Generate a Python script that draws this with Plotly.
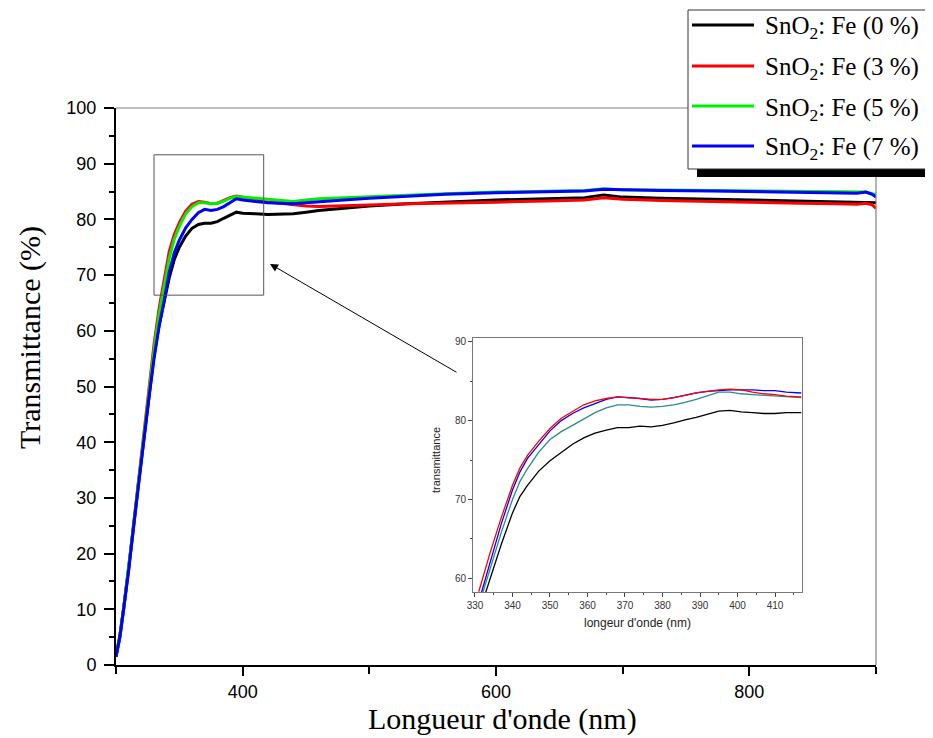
import plotly.graph_objects as go

# ---------------- data ----------------
wl = [300, 303, 306, 310, 314, 318, 322, 326, 330, 334, 338, 342, 346, 350, 355, 360,
      365, 370, 375, 380, 385, 390, 395, 400, 405, 410, 420, 430, 440, 450, 460, 480,
      500, 530, 560, 600, 640, 670, 685, 700, 730, 770, 800, 840, 870, 885, 892, 897, 900]

t_fe0 = [1.5, 5.0, 10.0, 17.0, 25.0, 33.0, 40.5, 48.5, 55.5, 61.0, 65.5, 69.5, 72.8, 75.0, 77.0, 78.4,
         79.1, 79.3, 79.3, 79.6, 80.2, 80.7, 81.3, 81.1, 81.0, 81.0, 80.9, 80.9, 81.0, 81.3, 81.6, 82.0,
         82.4, 82.8, 83.1, 83.5, 83.7, 83.9, 84.4, 84.0, 83.8, 83.6, 83.5, 83.3, 83.2, 83.1, 83.1, 83.0, 83.0]
t_fe3 = [1.6, 5.2, 10.2, 17.3, 25.5, 33.5, 41.2, 49.5, 57.5, 64.0, 69.3, 74.2, 77.3, 79.4, 81.5, 82.7,
         83.2, 83.1, 82.8, 82.9, 83.4, 83.9, 84.2, 84.0, 83.7, 83.5, 83.1, 82.9, 82.6, 82.4, 82.3, 82.5,
         82.6, 82.8, 82.9, 83.1, 83.3, 83.5, 83.9, 83.6, 83.4, 83.2, 83.0, 82.9, 82.8, 82.7, 82.9, 82.6, 82.0]
t_fe5 = [1.6, 5.1, 10.1, 17.2, 25.3, 33.3, 41.0, 49.0, 56.5, 63.0, 68.3, 73.0, 76.5, 78.8, 81.0, 82.3,
         83.0, 83.0, 82.8, 82.9, 83.3, 83.8, 84.1, 84.0, 83.8, 83.7, 83.5, 83.3, 83.2, 83.5, 83.7, 83.9,
         84.1, 84.4, 84.6, 84.9, 85.1, 85.2, 85.5, 85.3, 85.3, 85.2, 85.1, 85.0, 84.9, 84.8, 84.9, 84.6, 84.5]
t_fe7 = [1.5, 5.0, 10.0, 17.0, 25.1, 33.0, 40.5, 48.0, 55.0, 60.8, 65.4, 70.5, 74.0, 76.3, 78.5, 80.0,
         81.2, 81.8, 81.6, 81.8, 82.3, 83.0, 83.7, 83.5, 83.3, 83.2, 83.0, 82.9, 82.8, 83.0, 83.2, 83.5,
         83.8, 84.2, 84.5, 84.8, 85.0, 85.1, 85.4, 85.3, 85.2, 85.1, 85.0, 84.9, 84.8, 84.7, 84.9, 84.5, 84.0]

series_names = ["SnO<sub>2</sub>: Fe (0 %)", "SnO<sub>2</sub>: Fe (3 %)",
                "SnO<sub>2</sub>: Fe (5 %)", "SnO<sub>2</sub>: Fe (7 %)"]
series_colors = ["#000000", "#ff0000", "#00ee00", "#0000ff"]

# inset (zoom 330-417 nm)
wl_in = [331, 334, 337, 340, 342, 344, 347, 350, 353, 356, 359, 362, 365, 368, 371, 374,
         377, 380, 383, 386, 389, 392, 395, 398, 401, 404, 407, 410, 413, 417]
in_red = [58.3, 63.2, 67.7, 71.8, 74.0, 75.6, 77.4, 79.0, 80.3, 81.2, 82.0, 82.5, 82.8, 83.0, 82.9, 82.8,
          82.7, 82.7, 82.9, 83.2, 83.5, 83.7, 83.9, 84.0, 83.9, 83.6, 83.4, 83.3, 83.1, 83.0]
in_blue = [57.0, 62.0, 66.9, 71.2, 73.5, 75.2, 77.0, 78.7, 80.0, 80.9, 81.6, 82.2, 82.7, 83.0, 82.9, 82.8,
           82.6, 82.7, 82.9, 83.2, 83.5, 83.7, 83.8, 83.9, 83.9, 83.9, 83.8, 83.8, 83.6, 83.5]
in_teal = [56.5, 61.3, 65.8, 70.0, 72.3, 73.9, 76.0, 77.6, 78.6, 79.4, 80.2, 81.0, 81.6, 82.0, 82.0, 81.8,
           81.7, 81.8, 82.0, 82.3, 82.7, 83.2, 83.6, 83.6, 83.4, 83.3, 83.2, 83.1, 83.0, 82.9]
in_black = [55.5, 60.0, 64.3, 68.3, 70.4, 71.8, 73.6, 74.9, 76.0, 77.0, 77.8, 78.4, 78.8, 79.1, 79.1, 79.3,
            79.2, 79.4, 79.7, 80.1, 80.4, 80.8, 81.2, 81.3, 81.1, 81.0, 80.9, 80.9, 81.0, 81.0]
inset_series = [in_red, in_blue, in_teal, in_black]
inset_colors = ["#ff0000", "#0000ff", "#2a8c8c", "#000000"]

# ---------------- layout helpers (screen pixel -> paper) ----------------
WIN_W, WIN_H = 933, 738
OFF = 8                       # default page margin around the plot div
W, H = WIN_W - OFF, WIN_H - OFF
L, R, T, B = 116, 876, 108, 665       # plot area in screen pixels


def px(xp):
    return (xp - L) / (R - L)


def py(yp):
    return (B - yp) / (B - T)


SERIF = "Times New Roman, Liberation Serif, serif"
SANS = "Arial, Liberation Sans, sans-serif"

fig = go.Figure()

for name, ys, col in zip(series_names, [t_fe0, t_fe3, t_fe5, t_fe7], series_colors):
    fig.add_trace(go.Scatter(x=wl, y=ys, mode="lines", name=name,
                             line=dict(color=col, width=3), showlegend=False,
                             xaxis="x", yaxis="y"))

for ys, col in zip(inset_series[::-1], inset_colors[::-1]):
    fig.add_trace(go.Scatter(x=wl_in, y=ys, mode="lines", showlegend=False,
                             line=dict(color=col, width=1.3), xaxis="x2", yaxis="y2"))

box_line = dict(color="#333333", width=1)
shapes = [
    dict(type="line", xref="paper", yref="paper", x0=0, x1=1, y0=1, y1=1,
         line=dict(color="#808080", width=1.2)),
    dict(type="line", xref="paper", yref="paper", x0=1, x1=1, y0=0, y1=1,
         line=dict(color="#808080", width=1.2)),
    dict(type="rect", xref="x", yref="y", x0=330, x1=416.6, y0=66.4, y1=91.6,
         line=dict(color="#555555", width=1)),
    # legend shadow + white box (right side runs off the page, as in the reference)
    dict(type="rect", xref="paper", yref="paper", x0=px(697), x1=px(960), y0=py(177), y1=py(169),
         line=dict(width=0), fillcolor="black"),
    dict(type="rect", xref="paper", yref="paper", x0=px(688), x1=px(960), y0=py(169), y1=py(10),
         line=dict(width=0), fillcolor="white"),
    dict(type="line", xref="paper", yref="paper", x0=px(688), x1=px(960), y0=py(10), y1=py(10),
         line=box_line),
    dict(type="line", xref="paper", yref="paper", x0=px(688), x1=px(960), y0=py(169), y1=py(169),
         line=box_line),
    dict(type="line", xref="paper", yref="paper", x0=px(688), x1=px(688), y0=py(169), y1=py(10),
         line=box_line),
]
annotations = []
rows = [25, 66, 106, 146]
for name, col, r in zip(series_names, series_colors, rows):
    shapes.append(dict(type="line", xref="paper", yref="paper", x0=px(692), x1=px(754),
                       y0=py(r), y1=py(r), line=dict(color=col, width=3)))
    annotations.append(dict(x=px(763), y=py(r), xref="paper", yref="paper", text=name,
                            showarrow=False, xanchor="left", yanchor="middle", yshift=-3,
                            font=dict(family=SERIF, size=25, color="black")))

annotations.append(dict(x=px(30), y=py(338), xref="paper", yref="paper", text="Transmittance (%)",
                        textangle=-90, showarrow=False, xanchor="center", yanchor="middle",
                        font=dict(family=SERIF, size=30, color="black")))
annotations.append(dict(x=px(502), y=py(719), xref="paper", yref="paper", text="Longueur d'onde (nm)",
                        showarrow=False, xanchor="center", yanchor="middle",
                        font=dict(family=SERIF, size=30, color="black")))
annotations.append(dict(x=px(637), y=py(623), xref="paper", yref="paper", text="longeur d'onde (nm)",
                        showarrow=False, xanchor="center", yanchor="middle",
                        font=dict(family=SANS, size=12, color="#222222")))
annotations.append(dict(x=px(436), y=py(460), xref="paper", yref="paper", text="transmittance",
                        textangle=-90, showarrow=False, xanchor="center", yanchor="middle",
                        font=dict(family=SANS, size=11, color="#222222")))
annotations.append(dict(x=421.6, y=72.0, xref="x", yref="y", ax=570, ay=52.4, axref="x", ayref="y",
                        text="", showarrow=True, arrowhead=2, arrowsize=1.6, arrowwidth=1,
                        arrowcolor="black"))

fig.update_layout(
    width=W, height=H,
    margin=dict(l=L - OFF, r=OFF + W - R, t=T - OFF, b=OFF + H - B, autoexpand=False),
    paper_bgcolor="white", plot_bgcolor="white",
    showlegend=False,
    xaxis=dict(domain=[0, 1], range=[300, 900], tick0=0, dtick=200, ticks="outside",
               ticklen=9, tickwidth=1.5, tickcolor="black", showline=True, linewidth=2,
               linecolor="black", showgrid=False, zeroline=False,
               tickfont=dict(family=SANS, size=18, color="black"),
               minor=dict(dtick=100, tick0=0, ticks="outside", ticklen=7, tickwidth=1.5,
                          tickcolor="black", showgrid=False)),
    yaxis=dict(domain=[0, 1], range=[0, 100], tick0=0, dtick=10, ticks="outside",
               ticklen=10, tickwidth=1.5, tickcolor="black", showline=True, linewidth=2,
               linecolor="black", showgrid=False, zeroline=False, ticklabelstandoff=4,
               tickfont=dict(family=SANS, size=18, color="black"),
               minor=dict(dtick=5, tick0=0, ticks="outside", ticklen=5, tickwidth=1.5,
                          tickcolor="black", showgrid=False)),
    xaxis2=dict(domain=[px(473), px(802)], anchor="y2", range=[329.47, 417.2], tick0=0, dtick=10,
                ticks="outside", ticklen=4, tickcolor="#444444", showline=True, mirror=True,
                linecolor="#777777", linewidth=1, showgrid=False, zeroline=False,
                tickfont=dict(family=SANS, size=10, color="#333333"),
                minor=dict(dtick=5, tick0=0, ticks="outside", ticklen=2, tickcolor="#444444")),
    yaxis2=dict(domain=[py(592), py(338)], anchor="x2", range=[58.27, 90.47], tick0=0, dtick=10,
                ticks="outside", ticklen=4, tickcolor="#444444", showline=True, mirror=True,
                linecolor="#777777", linewidth=1, showgrid=False, zeroline=False,
                tickfont=dict(family=SANS, size=10, color="#333333"),
                minor=dict(dtick=5, tick0=0, ticks="outside", ticklen=2, tickcolor="#444444")),
    shapes=shapes,
    annotations=annotations,
)

fig.write_html("out.html")
